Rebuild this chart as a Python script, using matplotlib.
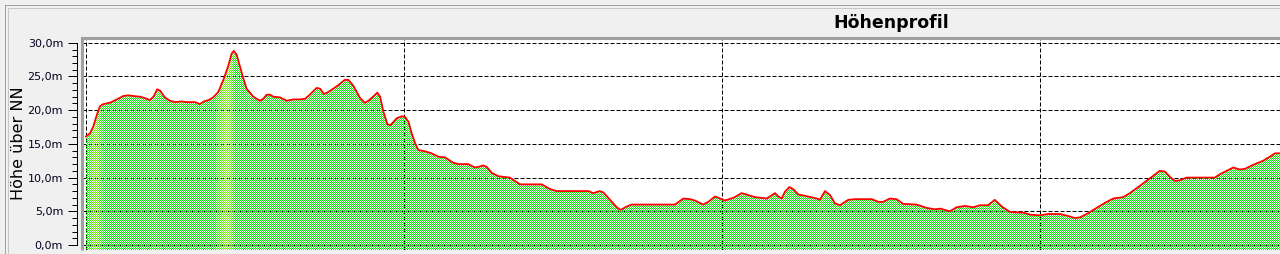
import numpy as np
import matplotlib
matplotlib.use('Agg')
import matplotlib.pyplot as plt
from matplotlib.patches import Polygon
from matplotlib.lines import Line2D
from matplotlib.ticker import FuncFormatter, MultipleLocator

# Strecke in m und Höhe über NN in m
distance_m = [0, 13, 23, 34, 44, 54, 75, 97, 117, 133, 149, 170, 191, 201, 212, 224, 233, 248,
              264, 280, 301, 317, 343, 358, 371, 385, 400, 416, 432, 447, 458, 465, 474, 484,
              495, 505, 526, 547, 558, 568, 579, 589, 610, 631, 652, 673, 689, 704, 725, 736,
              748, 762, 778, 793, 814, 825, 841, 862, 877, 888, 903, 916, 925, 935, 948, 958,
              977, 993, 1003, 1014, 1024, 1035, 1045, 1066, 1087, 1108, 1129, 1155, 1171, 1202,
              1223, 1234, 1249, 1260, 1276, 1297, 1333, 1349, 1365, 1433, 1459, 1480, 1580,
              1595, 1616, 1627, 1648, 1669, 1681, 1700, 1716, 1852, 1879, 1900, 1915, 1941,
              1957, 1978, 1994, 2009, 2036, 2062, 2083, 2104, 2141, 2151, 2167, 2177, 2188,
              2198, 2212, 2224, 2240, 2261, 2298, 2308, 2324, 2340, 2355, 2371, 2397, 2418,
              2471, 2492, 2507, 2528, 2549, 2570, 2612, 2644, 2670, 2686, 2717, 2738, 2764,
              2790, 2811, 2837, 2858, 2880, 2906, 2948, 2969, 3000, 3026, 3063, 3089, 3110,
              3126, 3147, 3178, 3210, 3231, 3262, 3283, 3315, 3346, 3377, 3393, 3409, 3425,
              3440, 3461, 3550, 3566, 3587, 3608, 3629, 3645, 3671, 3702, 3723, 3739, 3755]
height_m = [16.1, 16.6, 17.6, 19.3, 20.6, 20.9, 21.1, 21.6, 22.1, 22.2, 22.1, 22.0, 21.7, 21.5,
            22.0, 23.1, 22.9, 21.9, 21.4, 21.2, 21.3, 21.2, 21.2, 20.9, 21.3, 21.5, 21.9, 22.7,
            24.5, 26.5, 28.4, 28.8, 28.2, 26.5, 24.7, 23.2, 22.0, 21.4, 21.7, 22.3, 22.3, 22.0,
            21.9, 21.4, 21.6, 21.6, 21.7, 22.3, 23.3, 23.2, 22.4, 22.7, 23.2, 23.7, 24.5, 24.5,
            23.6, 21.8, 21.1, 21.4, 22.0, 22.6, 22.0, 19.8, 17.9, 17.8, 18.8, 19.1, 19.0, 18.3,
            16.6, 15.1, 14.1, 13.9, 13.6, 13.1, 13.0, 12.2, 12.0, 12.0, 11.5, 11.6, 11.8, 11.6,
            10.7, 10.2, 10.0, 9.5, 9.0, 9.0, 8.3, 8.0, 8.0, 7.7, 8.0, 7.8, 6.7, 5.6, 5.2, 5.7,
            6.0, 6.0, 6.9, 6.8, 6.6, 6.0, 6.4, 7.2, 6.9, 6.6, 7.0, 7.7, 7.4, 7.1, 6.9, 7.2, 7.7,
            7.2, 6.9, 7.9, 8.6, 8.3, 7.5, 7.3, 6.9, 6.7, 8.0, 7.4, 6.2, 5.9, 6.7, 6.8, 6.8, 6.4,
            6.4, 6.9, 6.8, 6.1, 6.0, 5.5, 5.3, 5.4, 5.0, 5.6, 5.8, 5.6, 5.9, 5.9, 6.7, 5.7, 4.9,
            4.8, 4.5, 4.4, 4.6, 4.6, 4.3, 4.0, 4.1, 4.6, 5.5, 6.4, 6.9, 7.1, 7.7, 8.8, 9.9, 11.0,
            10.9, 10.1, 9.5, 9.6, 10.0, 10.0, 10.5, 11.0, 11.5, 11.2, 11.3, 11.9, 12.5, 13.1,
            13.6, 13.6]

grid_x = [0, 1000, 2000, 3000]
y_ticks_step = 5
title = "Höhenprofil"
y_label = "Höhe über NN"

W, H = 1280, 254
fig = plt.figure(figsize=(W / 100, H / 100), dpi=100, facecolor='#f0f0f0')
ax = fig.add_axes([82 / W, 4 / H, 1198 / W, 212 / H])
ax.set_facecolor('white')

xlim = (-12.6, 3755)
ax.set_xlim(*xlim)
ax.set_ylim(-0.74, 30.71)

# gestrichelte Gitterlinien
ax.set_xticks(grid_x)
ax.yaxis.set_major_locator(MultipleLocator(y_ticks_step))
ax.yaxis.set_minor_locator(MultipleLocator(1))
ax.grid(True, which='major', color='black', linestyle=(0, (4, 2)), linewidth=0.72)
ax.tick_params(axis='x', length=0, labelbottom=False)
ax.tick_params(axis='y', which='major', direction='out', length=6.5, width=0.72,
               pad=3.5, labelsize=8, labelcolor='#000020')
ax.tick_params(axis='y', which='minor', direction='out', length=3.6, width=0.72)
ax.yaxis.set_major_formatter(FuncFormatter(lambda v, p: f"{v:.1f}m".replace('.', ',')))

for s in ['right', 'bottom']:
    ax.spines[s].set_visible(False)
ax.spines['top'].set_color('#a0a0a0')
ax.spines['top'].set_linewidth(2.2)
ax.spines['left'].set_position(('outward', 3.6))
ax.spines['left'].set_linewidth(0.72)
ax.spines['left'].set_bounds(0, 30)
ax.plot([0, 0], [0, 1], transform=ax.transAxes, color='#a0a0a0', lw=2.2,
        clip_on=False, solid_capstyle='butt')

# Fläche unter dem Profil als Schachbrettmuster, steile Anstiege leicht gelblich
floor = ax.get_ylim()[0]
verts = [(distance_m[0], floor)] + list(zip(distance_m, height_m)) + [(distance_m[-1], floor)]
area = Polygon(verts, closed=True, transform=ax.transData)

d = np.array(distance_m, dtype=float)
h = np.array(height_m)
slope = np.diff(h) / np.diff(d)
col_d = xlim[0] + (np.arange(W) + 0.5 - 82) / 1198 * (xlim[1] - xlim[0])
seg = np.clip(np.searchsorted(d, col_d) - 1, 0, len(slope) - 1)
tint = np.clip((slope[seg] - 0.05) / 0.1, 0, 1)
tint = np.convolve(tint, np.ones(7) / 7, mode='same') * 0.6

yy, xx = np.mgrid[0:H, 0:W]
tex = np.zeros((H, W, 4))
tex[..., 0] = (0.8 * tint)[None, :]
tex[..., 1] = (0.93 + 0.05 * tint)[None, :]
tex[..., 3] = ((xx + yy) % 2 == 0)
img = fig.figimage(tex, xo=0, yo=0, origin='upper', zorder=1)
img.set_clip_path(area)

profile = Line2D(distance_m, height_m, color='red', lw=1.3, transform=ax.transData, zorder=2)
profile.set_clip_box(ax.bbox)
fig.add_artist(profile)

# Rahmen
fig.add_artist(Line2D([4.5 / W, 1], [1 - 4.5 / H] * 2, transform=fig.transFigure, color='#a0a0a0', lw=0.72))
fig.add_artist(Line2D([4.5 / W] * 2, [0, 1 - 4.5 / H], transform=fig.transFigure, color='#a0a0a0', lw=0.72))
fig.add_artist(Line2D([7.5 / W, 1], [1 - 7.5 / H] * 2, transform=fig.transFigure, color='#c8c8c8', lw=0.72))
fig.add_artist(Line2D([7.5 / W] * 2, [0, 1 - 7.5 / H], transform=fig.transFigure, color='#c8c8c8', lw=0.72))

fig.text(891 / W, 1 - 28 / H, title, ha='center', va='baseline', fontsize=12.5, fontweight='bold')
fig.text(19 / W, 1 - 143 / H, y_label, ha='center', va='center', rotation=90, fontsize=11.5)

fig.savefig('out.png', dpi=100, facecolor=fig.get_facecolor())
